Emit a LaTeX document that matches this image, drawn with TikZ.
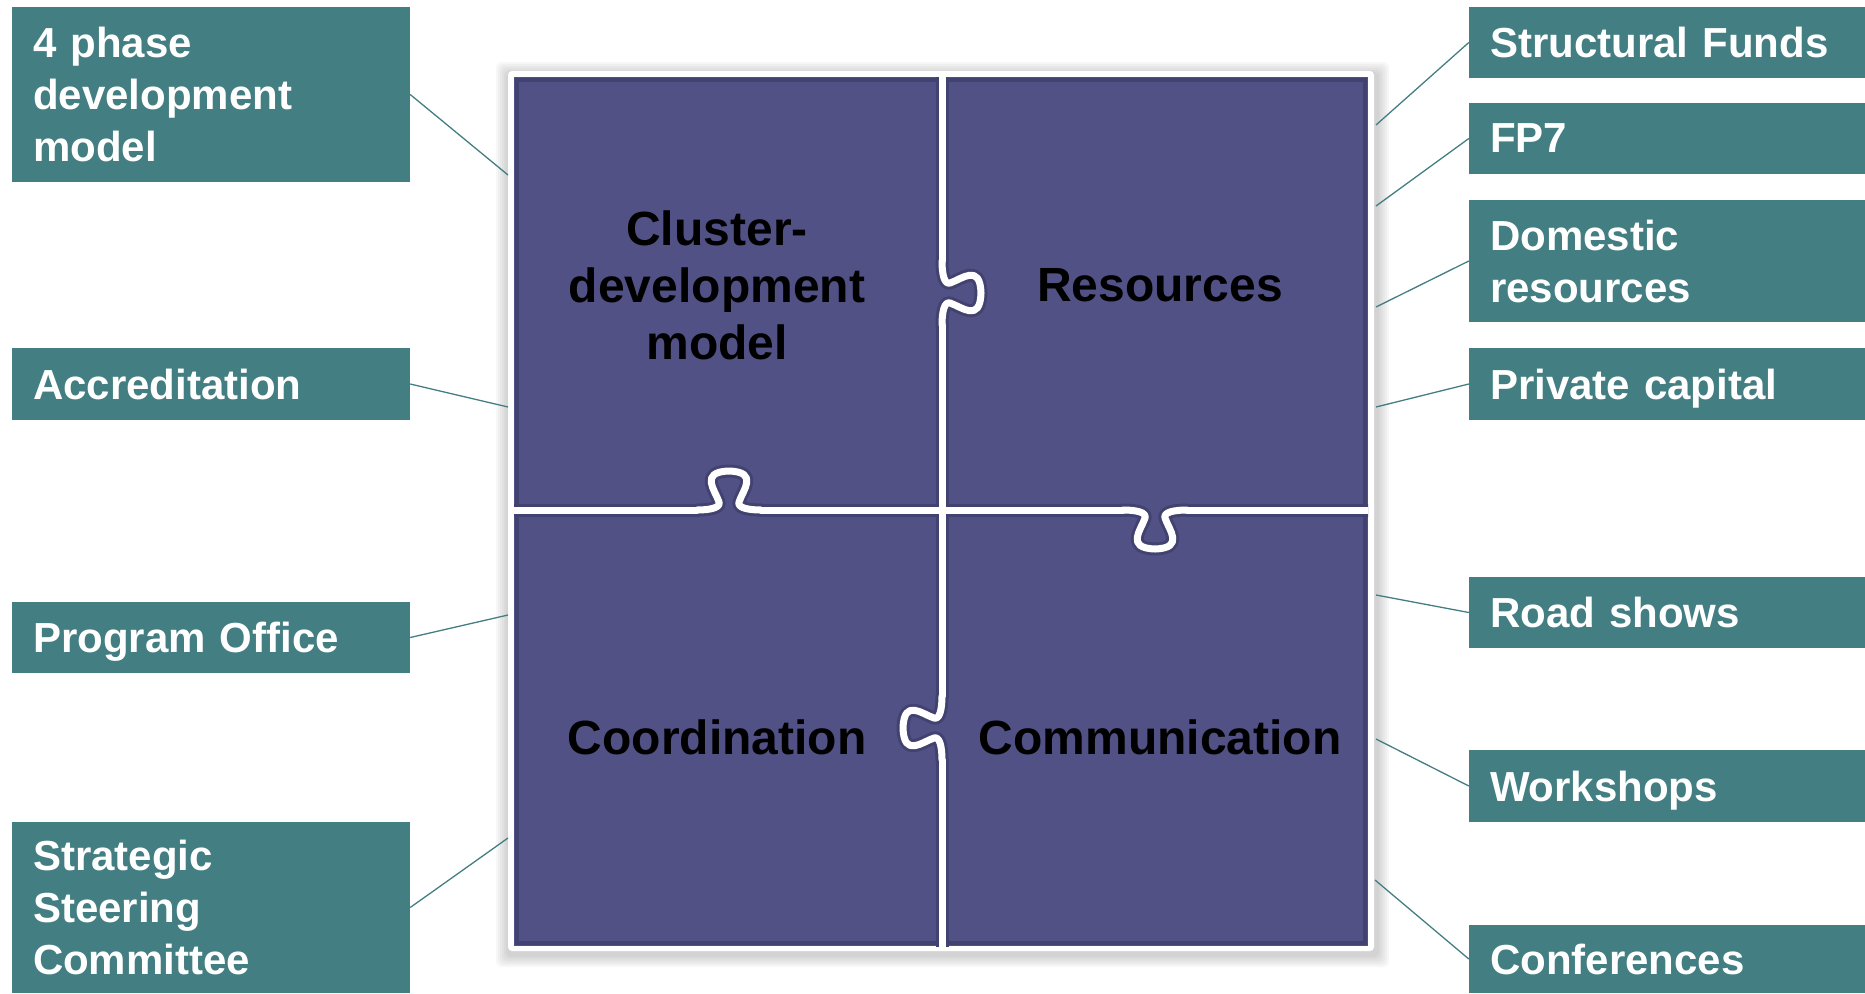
\documentclass[tikz,border=0pt]{standalone}
\usepackage{fontspec}
\setmainfont{Liberation Sans}
\definecolor{boxteal}{RGB}{66,126,130}
\definecolor{piece}{RGB}{81,81,134}
\definecolor{piecedark}{RGB}{66,66,112}
% one jigsaw knob, centred on the cut, bulging to local +y
\newcommand{\knob}[3]{%
\draw[#3, shift={#1}, rotate=#2] (-32,0) .. controls (-20,0) and (-8,2) .. (-10,8)
  .. controls (-14,20) and (-30,38) .. (0,39) .. controls (30,38) and (14,20) .. (10,8)
  .. controls (8,2) and (20,0) .. (32,0);}
\begin{document}
\begin{tikzpicture}[x=1pt, y=-1pt,
  sidebox/.style={fill=boxteal, text=white, font=\fontsize{42}{52}\selectfont\bfseries,
    align=left, inner xsep=21pt, inner ysep=0pt, text width=356pt, minimum width=398pt},
  rightbox/.style={sidebox, text width=354pt, minimum width=396pt},
  single/.style={text depth=0pt},
  piecetext/.style={text=black, font=\fontsize{48}{57}\selectfont\bfseries, align=center},
  link/.style={boxteal, line width=1.3pt},
  cut/.style={white, line width=7pt, line cap=round, line join=round},
  cutshade/.style={piecedark, line width=13pt, line cap=round, line join=round}]
\useasboundingbox (0,0) rectangle (1865,993);
% frame with soft shadow
\foreach \s in {2,4,...,12}
  \fill[black, opacity=0.03, rounded corners=6pt] (508-\s,74-\s) rectangle (1377+\s,955+\s);
\fill[white, rounded corners=4pt] (508,71) rectangle (1374,951);
\fill[piece] (514,77) rectangle (1368,946);
\draw[piecedark, line width=4pt] (517,80) rectangle (1365,943);
% puzzle cuts
\begin{scope}
\clip (514,77) rectangle (1368,946);
\foreach \st in {cutshade,cut}{
  \draw[\st] (942,60) -- (942,261);
  \draw[\st] (942,325) -- (942,696);
  \draw[\st] (942,760) -- (942,960);
  \draw[\st] (500,510) -- (697,510);
  \draw[\st] (761,510) -- (1123,510);
  \draw[\st] (1187,510) -- (1380,510);
  \knob{(942,293)}{90}{\st}
  \knob{(942,728)}{-90}{\st}
  \knob{(729,510)}{180}{\st}
  \knob{(1155,510)}{0}{\st}
}
\end{scope}
% pieces
\node[piecetext] (cluster) at (717,285) {Cluster-\\development\\model};
\node[piecetext] (resources) at (1160,285) {Resources};
\node[piecetext] (coord) at (717,737) {Coordination};
\node[piecetext] (comm) at (1160,737) {Communication};
% left boxes
\node[sidebox, minimum height=175pt] (phase) at (211,94.5) {4 phase\\development\\model};
\node[sidebox, single, minimum height=72pt] (accr) at (211,384) {Accreditation};
\node[sidebox, single, minimum height=71pt] (office) at (211,637.5) {Program Office};
\node[sidebox, minimum height=171pt] (steer) at (211,907.5) {Strategic\\Steering\\Committee};
% right boxes
\node[rightbox, single, minimum height=71pt] (funds) at (1667,42.5) {Structural Funds};
\node[rightbox, single, minimum height=71pt] (fp7) at (1667,138.5) {FP7};
\node[rightbox, minimum height=122pt] (domestic) at (1667,261) {Domestic\\resources};
\node[rightbox, single, minimum height=72pt] (private) at (1667,384) {Private capital};
\node[rightbox, single, minimum height=71pt] (road) at (1667,612.5) {Road shows};
\node[rightbox, single, minimum height=72pt] (work) at (1667,786) {Workshops};
\node[rightbox, single, minimum height=68pt] (conf) at (1667,959) {Conferences};
% ends on the frame
\coordinate (ePhase) at (508,175);
\coordinate (eAccr) at (508,407);
\coordinate (eOffice) at (508,615);
\coordinate (eSteer) at (508,838);
\coordinate (eFunds) at (1376,125);
\coordinate (eFp7) at (1376,206);
\coordinate (eDomestic) at (1376,307);
\coordinate (ePrivate) at (1376,407);
\coordinate (eRoad) at (1376,595);
\coordinate (eWork) at (1376,739);
\coordinate (eConf) at (1375,880);
\draw[link] (phase.east) -- (ePhase);
\draw[link] (accr.east) -- (eAccr);
\draw[link] (office.east) -- (eOffice);
\draw[link] (steer.east) -- (eSteer);
\draw[link] (funds.west) -- (eFunds);
\draw[link] (fp7.west) -- (eFp7);
\draw[link] (domestic.west) -- (eDomestic);
\draw[link] (private.west) -- (ePrivate);
\draw[link] (road.west) -- (eRoad);
\draw[link] (work.west) -- (eWork);
\draw[link] (conf.west) -- (eConf);
\end{tikzpicture}
\end{document}
